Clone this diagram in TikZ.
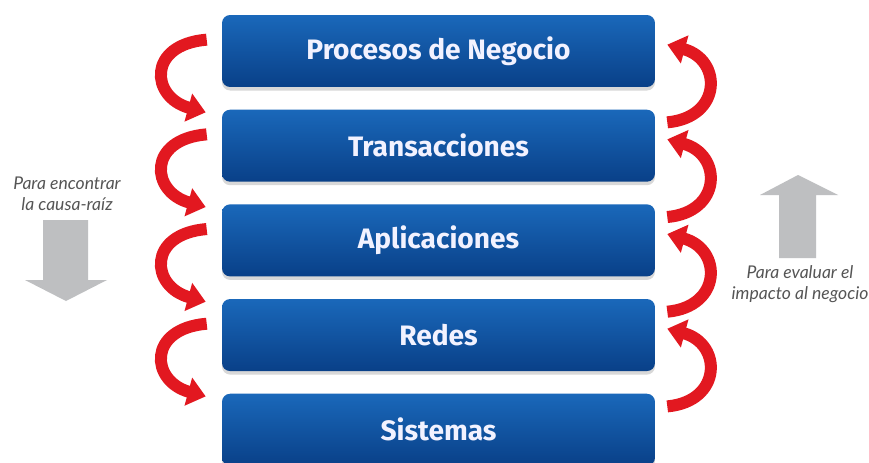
\documentclass[tikz,border=0pt]{standalone}
\usepackage{fontspec}
\setsansfont{Fira Sans}
\newfontfamily\notefont{Lato}
\usetikzlibrary{positioning,calc,arrows.meta,shadows}
\definecolor{boxtop}{RGB}{26,104,186}
\definecolor{boxbot}{RGB}{9,64,136}
\definecolor{ribbon}{RGB}{226,24,32}
\definecolor{greyarrow}{RGB}{190,191,193}
\definecolor{notegrey}{RGB}{85,85,85}
\tikzset{
  layer/.style={rectangle, rounded corners=0.16cm, minimum width=8.66cm, minimum height=1.44cm,
    top color=boxtop, bottom color=boxbot, text=white!95!blue,
    font=\sffamily\bfseries\fontsize{16}{19}\selectfont,
    drop shadow={shadow xshift=0pt, shadow yshift=-2pt, opacity=0.25, fill=black!60}},
  bend arr/.style={ribbon, line width=0.24cm, -{Triangle[width=0.56cm,length=0.36cm]}},
  note/.style={text=notegrey, align=center, font=\notefont\itshape\fontsize{10}{12}\selectfont}
}
\begin{document}
\begin{tikzpicture}[x=0.02cm,y=-0.02cm]
\useasboundingbox[fill=white] (0,0) rectangle (869,463);

% the five layers
\node[layer] (b1) at (438.5,51) {Procesos de Negocio};
\node[layer, below=0.44cm of b1] (b2) {Transacciones};
\node[layer, below=0.44cm of b2] (b3) {Aplicaciones};
\node[layer, below=0.44cm of b3] (b4) {Redes};
\node[layer, below=0.44cm of b4] (b5) {Sistemas};

% red arrows going down (left side)
\draw[bend arr] ($(b1.north west)+(-15,25)$) .. controls +(-60,5) and +(-55,-15) .. ($(b2.north west)+(-16,3)$);
\draw[bend arr] ($(b2.north west)+(-15,25)$) .. controls +(-60,5) and +(-55,-15) .. ($(b3.north west)+(-16,3)$);
\draw[bend arr] ($(b3.north west)+(-15,25)$) .. controls +(-60,5) and +(-55,-15) .. ($(b4.north west)+(-16,3)$);
\draw[bend arr] ($(b4.north west)+(-15,25)$) .. controls +(-60,5) and +(-55,-15) .. ($(b5.north west)+(-16,3)$);

% red arrows going up (right side)
\draw[bend arr] ($(b2.north east)+(12,13)$) .. controls +(55,-5) and +(55,15) .. ($(b1.north east)+(12,30)$);
\draw[bend arr] ($(b3.north east)+(12,13)$) .. controls +(55,-5) and +(55,15) .. ($(b2.north east)+(12,30)$);
\draw[bend arr] ($(b4.north east)+(12,13)$) .. controls +(55,-5) and +(55,15) .. ($(b3.north east)+(12,30)$);
\draw[bend arr] ($(b5.north east)+(12,13)$) .. controls +(55,-5) and +(55,15) .. ($(b4.north east)+(12,30)$);

% grey arrows and notes
\node[note] (findcause) at (67,194) {Para encontrar\\la causa-raíz};
\fill[greyarrow] (43,220) -- (88,220) -- (88,280) -- (107,280) -- (66,301) -- (25,280) -- (43,280) -- cycle;
\fill[greyarrow] (779,258) -- (816,258) -- (816,195) -- (838,195) -- (798,175) -- (760,195) -- (779,195) -- cycle;
\node[note] (evalimpact) at (800,284) {Para evaluar el\\impacto al negocio};
\end{tikzpicture}
\end{document}
